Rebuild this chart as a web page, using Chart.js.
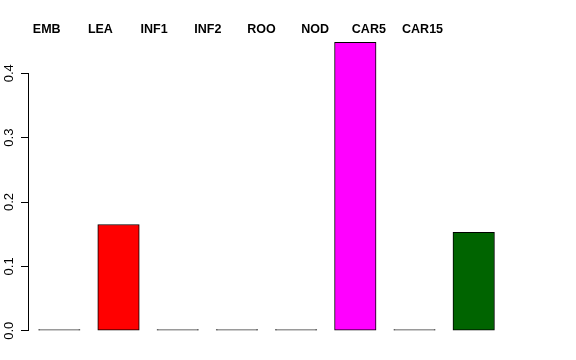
<!DOCTYPE html>
<html>
<head>
<meta charset="utf-8">
<script src="https://cdn.jsdelivr.net/npm/chart.js@4/dist/chart.umd.min.js"></script>
<style>
  html, body { margin: 0; padding: 0; background: #fff; }
  #wrap { width: 576px; height: 360px; }
</style>
</head>
<body>
<div id="wrap"><canvas id="myChart" width="576" height="360"></canvas></div>
<script>
const categories = ['EMB', 'LEA', 'INF1', 'INF2', 'ROO', 'NOD', 'CAR5', 'CAR15'];
const values = [0, 0.165, 0, 0, 0, 0.448, 0, 0.153];
const barColors = ['#444444', '#ff0000', '#444444', '#444444', '#444444', '#ff00ff', '#444444', '#006400'];
const yTicks = [0, 0.1, 0.2, 0.3, 0.4];

// top names + rotated y labels, drawn like R does it
const rLabels = {
    id: 'rLabels',
    afterDraw(chart) {
        const ctx = chart.ctx;
        const xs = chart.scales.x;
        const ys = chart.scales.y;
        ctx.save();
        ctx.fillStyle = '#000';
        ctx.textAlign = 'center';
        ctx.textBaseline = 'middle';
        ctx.font = 'bold 12.5px "Liberation Sans", Arial, sans-serif';
        categories.forEach((name, i) => {
            // names sit on a slightly tighter grid than the bars
            const x = xs.getPixelForValue(-0.213 + i * 0.907);
            ctx.fillText(name, x, 30);
        });
        ctx.font = '13px "Liberation Sans", Arial, sans-serif';
        yTicks.forEach((t) => {
            const y = ys.getPixelForValue(t);
            ctx.save();
            ctx.translate(ys.right - 18.5, y);
            ctx.rotate(-Math.PI / 2);
            ctx.fillText(t.toFixed(1), 0, 0);
            ctx.restore();
        });
        ctx.restore();
    }
};

const dataChart = {
    datasets: [{
        data: values.map((v, i) => ({ x: i, y: v })),
        backgroundColor: barColors,
        borderColor: '#000',
        borderWidth: 1,
        borderSkipped: false,
        minBarLength: 1,
        barThickness: 41.5,
        clip: false
    }]
};

const config = {
    type: 'bar',
    data: dataChart,
    options: {
        responsive: false,
        animation: false,
        layout: { padding: { top: 73.3, bottom: 29.3, left: 0, right: 72.7 } },
        plugins: { legend: { display: false }, tooltip: { enabled: false } },
        scales: {
            x: {
                type: 'linear',
                offset: false,
                min: -0.529,
                max: 7.5,
                display: false
            },
            y: {
                min: 0,
                max: 0.4,
                ticks: { stepSize: 0.1, display: false },
                grid: { drawOnChartArea: false, drawTicks: true, tickLength: 7, color: '#000' },
                border: { display: true, color: '#000', width: 1 },
                afterFit(scale) { scale.width = 28; }
            }
        }
    },
    plugins: [rLabels]
};

new Chart(document.getElementById('myChart'), config);
</script>
</body>
</html>
